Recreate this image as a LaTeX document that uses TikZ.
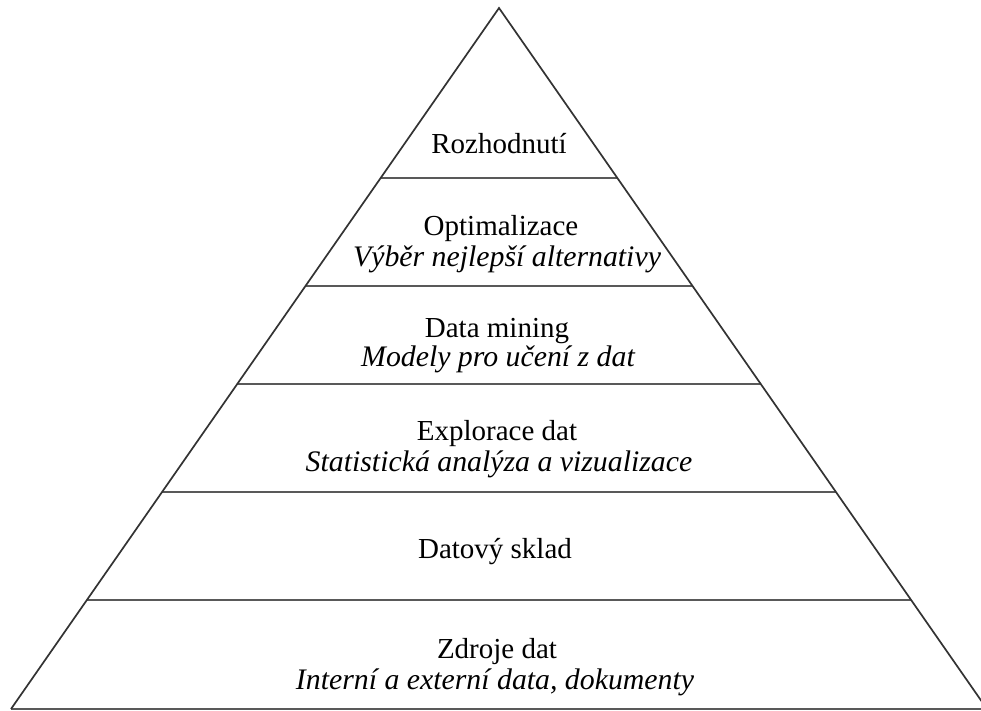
\documentclass[tikz,border=0pt]{standalone}
\usepackage{fontspec}
\setmainfont{Liberation Serif}
\usetikzlibrary{calc}
\begin{document}
\begin{tikzpicture}[x=1pt,y=-1pt,
  edge/.style={draw=black!80,line width=1.7pt,line join=miter},
  layer/.style={draw=black!65,line width=2pt},
  lbl/.style={anchor=base,inner sep=0pt,font=\fontsize{29}{30}\selectfont},
  sub/.style={lbl,font=\fontsize{29.8}{30}\selectfont\itshape}]
\useasboundingbox (0,0) rectangle (981,711);
\coordinate (A) at (499,8);
\coordinate (L) at (11,709);
\coordinate (R) at (987,709);
\foreach \y/\n in {178/a,286/b,384/c,492/d,600/e}{
  \coordinate (\n l) at ($(A)!{(\y-8)/701}!(L)$);
  \coordinate (\n r) at ($(A)!{(\y-8)/701}!(R)$);
  \draw[layer] (\n l) -- (\n r);
}
\draw[layer] (L) -- (R);
\draw[edge] (L) -- (A) -- (R);
\node[lbl] (t1) at (499,154) {Rozhodnutí};
\node[lbl] (t2) at (501,236) {Optimalizace};
\node[sub] (t2b) at (507,266) {Výběr nejlepší alternativy};
\node[lbl] (t3) at (497,337) {Data mining};
\node[sub] (t3b) at (498,366) {Modely pro učení z dat};
\node[lbl] (t4) at (497,440) {Explorace dat};
\node[sub] (t4b) at (499,471) {Statistická analýza a vizualizace};
\node[lbl] (t5) at (495,558) {Datový sklad};
\node[lbl] (t6) at (497,658) {Zdroje dat};
\node[sub] (t6b) at (495,689) {Interní a externí data, dokumenty};
\end{tikzpicture}
\end{document}
